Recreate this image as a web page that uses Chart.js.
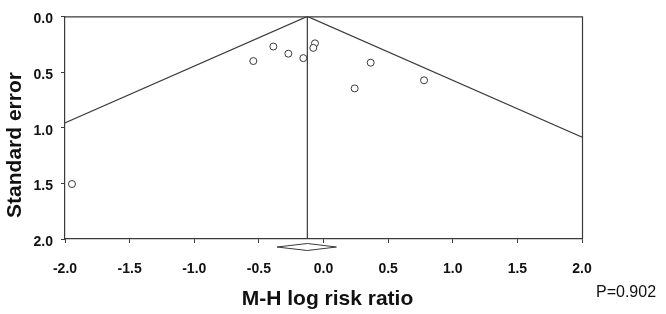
<!DOCTYPE html>
<html>
<head>
<meta charset="utf-8">
<script src="https://cdn.jsdelivr.net/npm/chart.js@4"></script>
<style>
  html,body{margin:0;padding:0;background:#fff;}
  #wrap{width:666px;height:314px;position:relative;}
</style>
</head>
<body>
<div id="wrap"><canvas id="funnel"></canvas></div>
<script>
// study estimates
const logRR  = [-0.543,-0.388,-0.272,-0.156,-0.066,-0.079,0.365,0.241,0.778,-1.946];
const stdErr = [0.401,0.271,0.335,0.375,0.242,0.283,0.416,0.647,0.574,1.506];
// pooled M-H estimate and its CI (diamond)
const pooled = -0.125;
const ciLow = -0.36;
const ciHigh = 0.10;
const seMax = 2.0;
const xTicks = [-2,-1.5,-1,-0.5,0,0.5,1,1.5,2];
const yTicks = [0,0.5,1,1.5,2];
const pText = 'P=0.902';

const ink = '#3a3a3a';
const fam = '"Liberation Sans", Arial, sans-serif';

const points = logRR.map((v,i)=>({x:v,y:stdErr[i]}));
const leftLine = [{x:pooled,y:0},{x:pooled-1.96*seMax,y:seMax}];
const rightLine = [{x:pooled,y:0},{x:pooled+1.96*seMax,y:seMax}];
const midLine = [{x:pooled,y:0},{x:pooled,y:seMax}];

const extras = {
  id:'extras',
  afterDraw(chart){
    const c = chart.ctx, a = chart.chartArea;
    const xs = chart.scales.x;
    c.save();
    c.strokeStyle = ink;
    c.lineWidth = 1.2;
    // top + right frame
    c.beginPath();
    c.moveTo(a.left, a.top+0.5); c.lineTo(a.right+0.5, a.top+0.5); c.lineTo(a.right+0.5, a.bottom);
    c.stroke();
    // diamond under the axis
    const yc = a.bottom + 8;
    c.lineWidth = 1;
    c.beginPath();
    c.moveTo(xs.getPixelForValue(ciLow), yc);
    c.lineTo(xs.getPixelForValue(pooled), yc-3.5);
    c.lineTo(xs.getPixelForValue(ciHigh), yc);
    c.lineTo(xs.getPixelForValue(pooled), yc+3.5);
    c.closePath();
    c.stroke();
    // titles
    c.fillStyle = '#111';
    c.font = 'bold 21px ' + fam;
    c.textAlign = 'center';
    c.textBaseline = 'middle';
    c.fillText('M-H log risk ratio', (a.left+a.right)/2 + 4, 299);
    c.save();
    c.translate(15, 145);
    c.rotate(-Math.PI/2);
    c.fillText('Standard error', 0, 0);
    c.restore();
    c.font = '16px ' + fam;
    c.textAlign = 'left';
    c.fillText(pText, 596, 293);
    c.restore();
  }
};

new Chart(document.getElementById('funnel'),{
  type:'scatter',
  data:{
    datasets:[
      {data:points, pointRadius:3.5, pointBorderWidth:1, borderColor:ink, backgroundColor:'#fff', pointHoverRadius:3.5},
      {type:'line', data:leftLine, borderColor:ink, borderWidth:1.2, pointRadius:0, fill:false},
      {type:'line', data:rightLine, borderColor:ink, borderWidth:1.2, pointRadius:0, fill:false},
      {type:'line', data:midLine, borderColor:ink, borderWidth:1.2, pointRadius:0, fill:false}
    ]
  },
  options:{
    responsive:true,
    maintainAspectRatio:false,
    animation:false,
    layout:{padding:{top:8,right:84,left:0,bottom:0}},
    plugins:{legend:{display:false},tooltip:{enabled:false}},
    scales:{
      x:{
        type:'linear', min:-2, max:2,
        afterFit(s){ s.height = 75; },
        afterBuildTicks(s){ s.ticks = xTicks.map(v=>({value:v})); },
        ticks:{color:'#111', padding:18, font:{family:fam, size:14, weight:'bold'}, callback:v=>v.toFixed(1)},
        grid:{drawOnChartArea:false, drawTicks:true, tickLength:4, color:ink},
        border:{display:true, color:ink, width:1.2}
      },
      y:{
        type:'linear', min:0, max:2, reverse:true,
        afterFit(s){ s.width = 65; },
        afterBuildTicks(s){ s.ticks = yTicks.map(v=>({value:v})); },
        ticks:{color:'#111', padding:8, labelOffset:3, font:{family:fam, size:14, weight:'bold'}, callback:v=>v.toFixed(1)},
        grid:{drawOnChartArea:false, drawTicks:true, tickLength:4, color:ink},
        border:{display:true, color:ink, width:1.2}
      }
    }
  },
  plugins:[extras]
});
</script>
</body>
</html>
